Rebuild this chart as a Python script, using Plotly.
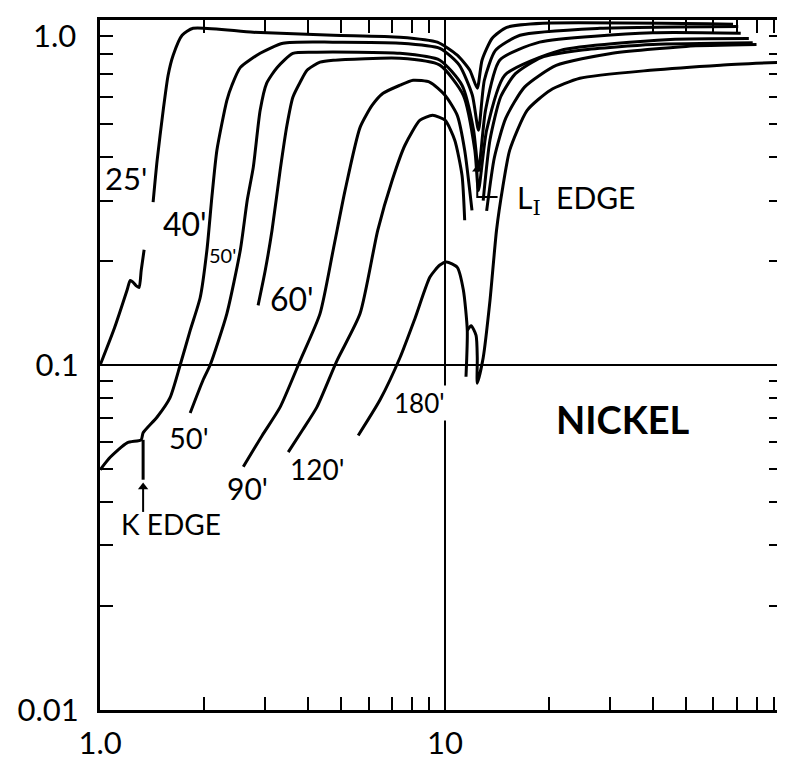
import math
import plotly.graph_objects as go

N = None
# ---- data (wavelength in Angstrom, reflectivity) ----
wl_25 = [1.0, 1.10, 1.197, 1.222, 1.245, 1.27, 1.297, 1.315, 1.341, N,
         1.424, 1.463, 1.523, 1.574, 1.628, 1.728, 1.86, 2.78, 4.74, 7.4, 9.5, 10.85, 11.8, 12.4, 12.8, 13.7, 15.1, 19.2, 68.4]
R_25 = [0.100, 0.128, 0.165, 0.176, 0.174, 0.170, 0.168, 0.188, 0.216, N,
        0.297, 0.393, 0.548, 0.693, 0.792, 0.905, 0.948, 0.923, 0.905, 0.893, 0.864, 0.792, 0.716, 0.635, 0.766, 0.887, 0.954, 0.98, 0.974]

wl_40 = [1.0, 1.069, 1.197, 1.315, 1.332, 1.463, 1.596, 1.706, 1.824, 1.95, 2.04, 2.11, 2.18, 2.33, 2.41, 2.55, 2.91, 3.39, 4.74, 7.4, 9.66, 11.0, 12.0, 12.5, 13.0, 14.0, 16.5, 28.1, 70.8, N,
         1.332, 1.332]
R_40 = [0.0497, 0.054, 0.0595, 0.0607, 0.0636, 0.0707, 0.0806, 0.100, 0.126, 0.157, 0.216, 0.31, 0.42, 0.586, 0.648, 0.73, 0.802, 0.858, 0.864, 0.858, 0.829, 0.741, 0.606, 0.48, 0.67, 0.818, 0.905, 0.948, 0.96, N,
        0.0607, 0.0465]

wl_50 = [1.824, 1.988, 2.084, 2.33, 2.55, 2.67, 2.78, 2.91, 3.04, 3.26, 3.62, 4.25, 7.4, 9.66, 11.2, 12.1, 12.5, 13.1, 14.4, 18.8, 40.0, 72.0]
R_50 = [0.0726, 0.0905, 0.100, 0.141, 0.216, 0.301, 0.375, 0.548, 0.657, 0.73, 0.802, 0.808, 0.802, 0.766, 0.648, 0.48, 0.367, 0.548, 0.766, 0.864, 0.92, 0.917]

wl_60 = [2.87, 3.01, 3.15, 3.325, 3.48, 3.62, 3.8, 3.98, 4.34, 4.74, 7.4, 9.66, 11.3, 12.2, 12.5, 13.2, 14.9, 21.6, 45.0, 76.0]
R_60 = [0.149, 0.188, 0.246, 0.367, 0.496, 0.598, 0.661, 0.716, 0.756, 0.766, 0.776, 0.741, 0.606, 0.42, 0.321, 0.48, 0.693, 0.818, 0.88, 0.886]

wl_90 = [2.6, 2.95, 3.325, 3.8, 4.34, 4.74, 5.13, 5.67, 6.15, 6.61, 7.4, 8.08, 9.04, 10.0, 10.85, 11.4, 11.97, N,
         12.9, 13.5, 14.5, 16.0, 19.0, 25.0, 40.0, 78.0]
R_90 = [0.0507, 0.0625, 0.0755, 0.103, 0.141, 0.216, 0.321, 0.489, 0.567, 0.614, 0.648, 0.67, 0.661, 0.606, 0.53, 0.42, 0.281, N,
        0.30, 0.45, 0.60, 0.70, 0.78, 0.82, 0.85, 0.86]

wl_120 = [3.51, 3.87, 4.25, 4.86, 5.67, 6.38, 7.03, 7.65, 8.46, 9.2, 10.0, 10.67, 11.2, 11.4, N,
          13.2, 13.9, 15.0, 17.0, 21.0, 30.0, 50.0, 80.0]
R_120 = [0.0559, 0.065, 0.0755, 0.103, 0.141, 0.246, 0.344, 0.434, 0.513, 0.53, 0.513, 0.449, 0.355, 0.263, N,
         0.28, 0.40, 0.52, 0.64, 0.74, 0.80, 0.84, 0.85]

wl_180 = [5.6, 6.48, 7.4, 8.19, 9.04, 9.66, 10.1, 10.85, 11.3, 11.6, 11.5, N,
          11.6, 11.9, 12.3, 12.4, 12.4, 12.9, 13.5, 14.1, 14.7, 15.4, 17.3, 20.2, 24.6, 39.3, 62.9, 94.8]
R_180 = [0.0625, 0.0793, 0.105, 0.137, 0.180, 0.195, 0.199, 0.192, 0.165, 0.126, 0.0925, N,
         0.126, 0.130, 0.122, 0.105, 0.0886, 0.105, 0.154, 0.246, 0.328, 0.42, 0.548, 0.627, 0.679, 0.716, 0.741, 0.756]

# edge pointers (shaft + elbow), arrow tips
wl_Kptr = [1.332, 1.332]
R_Kptr = [0.0443, 0.0375]
wl_Lptr = [12.4, 12.4, 14.2]
R_Lptr = [0.37, 0.307, 0.307]
wl_tips = [1.332, 12.4]
R_tips = [0.0443, 0.37]

curves = [(wl_25, R_25), (wl_40, R_40), (wl_50, R_50), (wl_60, R_60),
          (wl_90, R_90), (wl_120, R_120), (wl_180, R_180)]

x_major = [1, 10]
x_major_text = ["1.0", "10"]
x_minor = [2, 3, 4, 5, 6, 7, 8, 9, 20, 30, 40, 50, 60, 70, 80, 90]
y_major = [0.01, 0.1, 1.0]
y_major_text = ["0.01", "0.1", "1.0"]
y_minor = [0.02, 0.03, 0.04, 0.05, 0.06, 0.07, 0.08, 0.09, 0.2, 0.3, 0.4, 0.5, 0.6, 0.7, 0.8, 0.9]

FONT = "Lato"
fig = go.Figure()
for wl, R in curves:
    fig.add_trace(go.Scatter(x=wl, y=R, mode="lines", line=dict(color="black", width=3, shape="spline", smoothing=0.6),
                             connectgaps=False, hoverinfo="skip"))
fig.add_trace(go.Scatter(x=wl_Kptr, y=R_Kptr, mode="lines", line=dict(color="black", width=2), hoverinfo="skip"))
fig.add_trace(go.Scatter(x=wl_Lptr, y=R_Lptr, mode="lines", line=dict(color="black", width=2), hoverinfo="skip"))
fig.add_trace(go.Scatter(x=wl_tips, y=R_tips, mode="markers",
                         marker=dict(symbol="triangle-up", size=9, color="black"), hoverinfo="skip"))

def lab(text, x, y, size=27, **kw):
    fig.add_annotation(x=math.log10(x), y=math.log10(y), text=text, showarrow=False,
                       font=dict(family=FONT, size=size, color="black"), **kw)

lab("25'", 1.19, 0.348, size=31)
lab("40'", 1.764, 0.258, size=32)
lab("50'", 2.27, 0.209, size=20)
lab("60'", 3.6, 0.156, size=32)
lab("50'", 1.81, 0.0617, size=29)
lab("90'", 2.67, 0.0441, size=30)
lab("120'", 4.25, 0.050, size=28)
lab("180'", 8.42, 0.0775, size=26, bgcolor="white")
lab("<b>NICKEL</b>", 32.9, 0.0697, size=38)
lab("K EDGE", 1.607, 0.0347, size=28)
lab("L<sub><span style='font-family:DejaVu Serif'>I</span></sub>\u00a0\u00a0EDGE", 23.9, 0.303, size=30)

# top y tick label sits a little below the frame in the original, so it is drawn as an annotation
y_ticktext_axis = y_major_text[:2] + [""]
fig.add_annotation(xref="paper", x=0, xanchor="right", xshift=-22, yref="y", y=math.log10(y_major[2]),
                   yanchor="middle", yshift=-15, text=y_major_text[2], showarrow=False,
                   font=dict(family=FONT, size=31, color="black"))

axis_common = dict(type="log", showline=True, linecolor="black", linewidth=3, mirror="ticks",
                   ticks="inside", ticklen=13, tickwidth=2, tickcolor="black", automargin=False,
                   ticklabeloverflow="allow",
                   showgrid=True, gridcolor="black", gridwidth=1.5, zeroline=False,
                   tickfont=dict(family=FONT, size=31, color="black"))
fig.update_xaxes(range=[-0.0005, 1.977], tickvals=x_major, ticktext=x_major_text, ticklabelstandoff=4,
                 minor=dict(tickvals=x_minor, ticks="inside", ticklen=13, tickwidth=2, tickcolor="black", showgrid=False),
                 **axis_common)
fig.update_yaxes(range=[-2.0005, 0.0008], tickvals=y_major, ticktext=y_ticktext_axis, ticklabelstandoff=12,
                 minor=dict(tickvals=y_minor, ticks="inside", ticklen=13, tickwidth=2, tickcolor="black", showgrid=False),
                 **axis_common)
# page body adds an 8px margin, so the figure is sized/margined to put the plot area at 100..782 x 20..710
fig.update_layout(width=777, height=756, margin=dict(l=92, r=3, t=12, b=54),
                  plot_bgcolor="white", paper_bgcolor="white", showlegend=False)
fig.write_html("out.html")
